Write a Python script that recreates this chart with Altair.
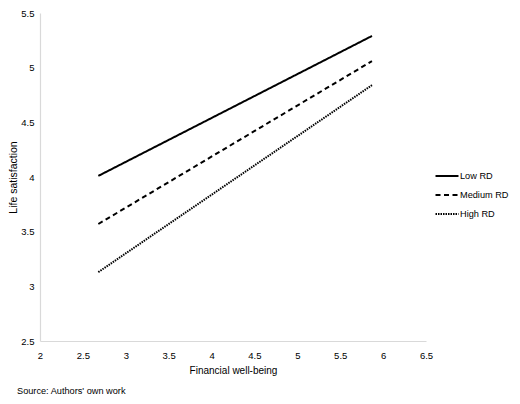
import altair as alt
import pandas as pd

groups = ["Low RD", "Medium RD", "High RD"]
x_values = [2.68, 5.87]
low_rd = [4.01, 5.29]
medium_rd = [3.57, 5.06]
high_rd = [3.13, 4.84]
x_ticks = [2, 2.5, 3, 3.5, 4, 4.5, 5, 5.5, 6, 6.5]
y_ticks = [2.5, 3, 3.5, 4, 4.5, 5, 5.5]
source_note = "Source: Authors' own work"

rows = []
for g, ys in zip(groups, [low_rd, medium_rd, high_rd]):
    for xv, yv in zip(x_values, ys):
        rows.append({"group": g, "fwb": xv, "ls": yv})
df = pd.DataFrame(rows)

FONT = "Liberation Sans"

lines = alt.Chart(df).mark_line(color="black", strokeWidth=2).encode(
    x=alt.X("fwb:Q", title="Financial well-being",
            scale=alt.Scale(domain=[2, 6.5], nice=False, zero=False),
            axis=alt.Axis(values=x_ticks, format="~g", grid=False, ticks=False,
                          domainColor="#d9d9d9", domainWidth=1.2, labelPadding=9,
                          titlePadding=6, titleFontSize=10,
                          labelFlush=False, labelOverlap=False)),
    y=alt.Y("ls:Q", title="Life satisfaction",
            scale=alt.Scale(domain=[2.5, 5.5], nice=False, zero=False),
            axis=alt.Axis(values=y_ticks, format="~g", grid=False, ticks=False,
                          domainColor="#d9d9d9", domainWidth=1.2, labelPadding=6,
                          titlePadding=2, titleFontSize=10.5,
                          labelFlush=False, labelOverlap=False)),
    strokeDash=alt.StrokeDash("group:N", sort=groups, title=None,
                              scale=alt.Scale(domain=groups,
                                              range=[[1, 0], [5, 3.5], [1.5, 1]]),
                              legend=alt.Legend(orient="none", legendX=400, legendY=156,
                                                symbolType="M-2,0H2", symbolSize=132,
                                                symbolStrokeWidth=2, symbolStrokeColor="black",
                                                labelOffset=6, rowPadding=6, padding=0,
                                                labelFont=FONT, labelFontSize=9.2,
                                                labelColor="black")),
)

note = alt.Chart(pd.DataFrame({"t": [source_note]})).mark_text(
    align="left", baseline="middle", font=FONT, fontSize=9.2, color="black"
).encode(x=alt.value(-23), y=alt.value(378), text="t:N")

chart = alt.layer(lines, note).properties(
    width=386, height=328,
    autosize=alt.AutoSizeParams(type="none"),
    padding={"left": 32, "top": 5, "right": 86, "bottom": 55},
).configure_view(stroke=None).configure_axis(
    labelFont=FONT, labelFontSize=9.5, labelColor="black",
    titleFont=FONT, titleColor="black", titleFontWeight="normal",
)

chart.save("out.html", embed_options={"renderer": "svg", "actions": False})
